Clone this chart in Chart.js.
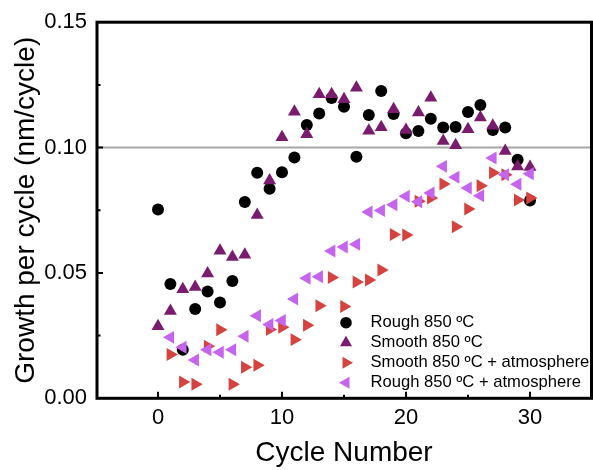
<!DOCTYPE html>
<html>
<head>
<meta charset="utf-8">
<script src="https://cdn.jsdelivr.net/npm/chart.js@4.4.1/dist/chart.umd.min.js"></script>
<style>
  body { margin: 0; background: #fff; }
  #wrap { width: 593px; height: 470px; }
</style>
</head>
<body>
<div id="wrap"><canvas id="growth" width="593" height="470"></canvas></div>
<script>
// cycle numbers
const cycles = [0, 1, 2, 3, 4, 5, 6, 7, 8, 9, 10, 11, 12, 13, 14, 15, 16, 17, 18, 19, 20, 21, 22, 23, 24, 25, 26, 27, 28, 29, 30];
const atmCycles = [1, 2, 3, 4, 5, 6, 7, 8, 9, 10, 11, 12, 13, 14, 15, 16, 17, 18, 19, 20, 21, 22, 23, 24, 25, 26, 27, 28, 29, 30];

// growth per cycle (nm/cycle)
const rough850 = [0.0753, 0.0456, 0.0194, 0.0356, 0.0426, 0.0382, 0.0468, 0.0783, 0.0900, 0.0836,
  0.0902, 0.0960, 0.1090, 0.1136, 0.1198, 0.1163, 0.0963, 0.1130, 0.1226, 0.1134,
  0.1057, 0.1066, 0.1115, 0.1080, 0.1082, 0.1142, 0.1170, 0.1070, 0.1080, 0.0951, 0.0789];
const smooth850 = [0.0287, 0.0348, 0.0435, 0.0444, 0.0498, 0.0588, 0.0564, 0.0573, 0.0731, 0.0869,
  0.1041, 0.1143, 0.1053, 0.1213, 0.1213, 0.1193, 0.1239, 0.1067, 0.1081, 0.1153,
  0.1070, 0.1140, 0.1199, 0.1026, 0.1009, 0.1073, 0.1120, 0.1087, 0.0986, 0.0924, 0.0922];
const smooth850Atm = [0.0175, 0.0065, 0.0056, 0.0208, 0.0273, 0.0056, 0.0124, 0.0132, 0.0274,
  0.0283, 0.0234, 0.0291, 0.0369, 0.0482, 0.0366, 0.0464, 0.0472, 0.0512, 0.0653,
  0.0651, 0.0786, 0.0799, 0.0855, 0.0684, 0.0755, 0.0848, 0.0900, 0.0892, 0.0791, 0.0799];
const rough850Atm = [0.0243, 0.0204, 0.0153, 0.0194, 0.0184, 0.0194, 0.0247, 0.0329, 0.0294,
  0.0310, 0.0396, 0.0479, 0.0485, 0.0587, 0.0603, 0.0614, 0.0743, 0.0749, 0.0772,
  0.0806, 0.0784, 0.0819, 0.0925, 0.0882, 0.0839, 0.0808, 0.0958, 0.0892, 0.0854, 0.0896];

// axes
const xTickVals = [0, 10, 20, 30];
const xMinorVals = [5, 15, 25];
const yTickVals = [0.00, 0.05, 0.10, 0.15];
const yMinorVals = [0.025, 0.075, 0.125];
const refLine = 0.10;

Chart.defaults.font.family = "'Liberation Sans', Arial, sans-serif";
Chart.defaults.color = '#000';

function points(xs, ys) {
  return ys.map((v, i) => ({x: xs[i], y: v}));
}

const series = [
  {label: 'Rough 850 ºC', data: points(cycles, rough850), color: '#000000', style: 'circle', rot: 0, r: 6, order: 4},
  {label: 'Smooth 850 ºC', data: points(cycles, smooth850), color: '#7a1c6e', style: 'triangle', rot: 0, r: 7.5, order: 3},
  {label: 'Smooth 850 ºC + atmosphere', data: points(atmCycles, smooth850Atm), color: '#d4433f', style: 'triangle', rot: 90, r: 7.5, order: 2},
  {label: 'Rough 850 ºC + atmosphere', data: points(atmCycles, rough850Atm), color: '#c564ec', style: 'triangle', rot: 270, r: 7.5, order: 1}
];

// grey line at 0.10, box and inward ticks
const frame = {
  id: 'frame',
  beforeDatasetsDraw(chart) {
    const {ctx, chartArea: ca, scales: {y}} = chart;
    const py = y.getPixelForValue(refLine);
    ctx.save();
    ctx.strokeStyle = '#a6a6a6';
    ctx.lineWidth = 2;
    ctx.beginPath();
    ctx.moveTo(ca.left, py);
    ctx.lineTo(ca.right, py);
    ctx.stroke();
    ctx.restore();
  },
  afterDatasetsDraw(chart) {
    const {ctx, chartArea: ca, scales: {x, y}} = chart;
    const L = ca.left + 1, R = ca.right - 0.5;
    ctx.save();
    ctx.strokeStyle = '#000';
    ctx.lineWidth = 2;
    ctx.beginPath();
    xTickVals.forEach(v => {
      const px = x.getPixelForValue(v);
      ctx.moveTo(px, ca.bottom); ctx.lineTo(px, ca.bottom - 6.5);
    });
    xMinorVals.forEach(v => {
      const px = x.getPixelForValue(v);
      ctx.moveTo(px, ca.bottom); ctx.lineTo(px, ca.bottom - 3.5);
    });
    yTickVals.slice(1, -1).forEach(v => {
      const py = y.getPixelForValue(v);
      ctx.moveTo(L, py); ctx.lineTo(L + 6, py);
    });
    yMinorVals.forEach(v => {
      const py = y.getPixelForValue(v);
      ctx.moveTo(L, py); ctx.lineTo(L + 3.5, py);
    });
    ctx.stroke();
    ctx.lineWidth = 3;
    ctx.strokeRect(L, ca.top, R - L, ca.bottom - ca.top);
    ctx.restore();
  }
};

const insideLegend = {
  id: 'insideLegend',
  afterDraw(chart) {
    const {ctx, chartArea: ca} = chart;
    const mx = ca.right - 246;
    const y0 = ca.bottom - 75.6;
    ctx.save();
    ctx.font = "16.6px 'Liberation Sans', Arial, sans-serif";
    ctx.textBaseline = 'middle';
    ctx.textAlign = 'left';
    series.forEach((s, i) => {
      const yy = y0 + i * 20;
      ctx.fillStyle = s.color;
      Chart.helpers.drawPoint(ctx, {
        pointStyle: s.style, rotation: s.rot, radius: s.style === 'circle' ? 5.8 : 7, borderWidth: 0
      }, mx, yy);
      ctx.fillStyle = '#000';
      ctx.fillText(s.label, mx + 24.5, yy);
    });
    ctx.restore();
  }
};

new Chart(document.getElementById('growth'), {
  type: 'scatter',
  data: {
    datasets: series.map(s => ({
      label: s.label,
      data: s.data,
      order: s.order,
      pointStyle: s.style,
      pointRotation: s.rot,
      pointRadius: s.r,
      pointHoverRadius: s.r,
      pointBorderWidth: 0,
      backgroundColor: s.color,
      borderColor: s.color,
      showLine: false
    }))
  },
  options: {
    responsive: false,
    animation: false,
    layout: {autoPadding: false, padding: {top: 21.7, right: 1, bottom: 0, left: 0}},
    plugins: {
      legend: {display: false},
      tooltip: {enabled: false}
    },
    scales: {
      x: {
        type: 'linear',
        min: -5,
        max: 35,
        afterBuildTicks: s => { s.ticks = xTickVals.map(v => ({value: v})); },
        afterFit: s => { s.height = 71.7; s.paddingLeft = 0; s.paddingRight = 0; },
        grid: {display: false, drawTicks: false},
        border: {display: false},
        ticks: {color: '#000', font: {size: 22}, padding: 6, maxRotation: 0, autoSkip: false},
        title: {display: true, text: 'Cycle Number', color: '#000', font: {size: 28}, padding: {top: 0, bottom: 0}}
      },
      y: {
        min: 0,
        max: 0.15,
        afterBuildTicks: s => { s.ticks = yTickVals.map(v => ({value: v})); },
        afterFit: s => { s.width = 96; },
        grid: {display: false, drawTicks: false},
        border: {display: false},
        ticks: {color: '#000', font: {size: 22}, padding: 9, callback: v => v.toFixed(2)},
        title: {display: true, text: 'Growth per cycle (nm/cycle)', color: '#000', font: {size: 28}, padding: {top: 9, bottom: 0}}
      }
    }
  },
  plugins: [frame, insideLegend]
});
</script>
</body>
</html>
